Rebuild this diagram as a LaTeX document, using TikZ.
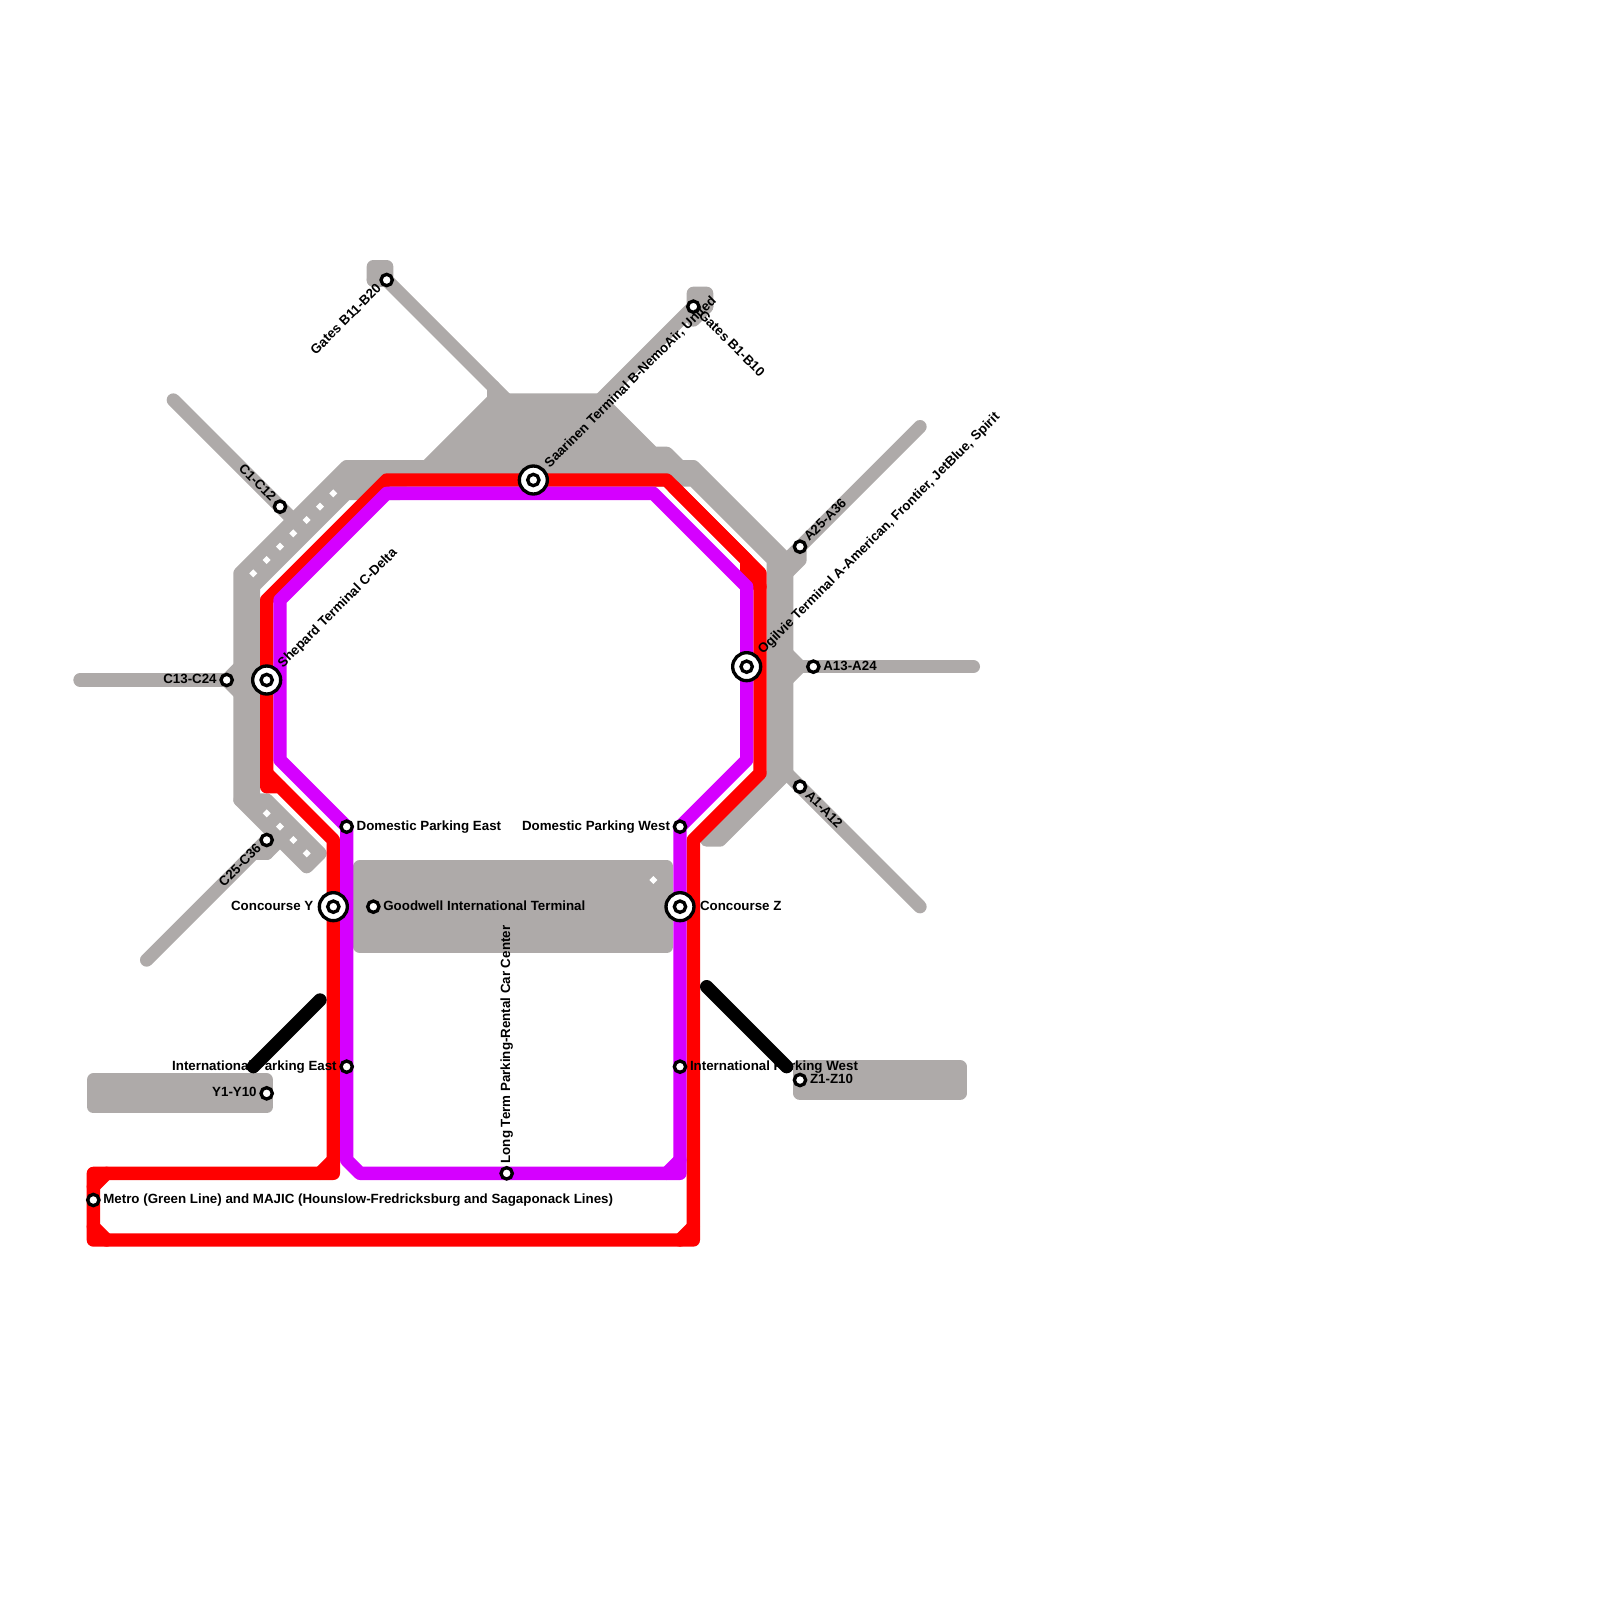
\documentclass[tikz,border=0pt]{standalone}
\usepackage{fontspec}
\setmainfont{Liberation Sans}
\usetikzlibrary{calc}
\definecolor{tgray}{HTML}{AEAAA9}
\definecolor{tred}{HTML}{FF0000}
\definecolor{tpurple}{HTML}{D500FF}
\tikzset{
  track/.style={line width=10pt,line cap=round,line join=round},
  walk/.style={track,tgray},
  area/.style={track,draw=tgray,fill=tgray},
  redline/.style={track,tred},
  purpleline/.style={track,tpurple},
  blackline/.style={track,black},
  stn/.style={circle,draw=black,fill=white,line width=2.5pt,minimum size=8.5pt,inner sep=0pt,outer sep=0pt},
  bigstn/.style={circle,draw=black,fill=white,line width=2.5pt,minimum size=21pt,inner sep=0pt,outer sep=0pt},
  lbl/.style={inner sep=0pt,outer sep=0pt,font=\fontsize{10pt}{12pt}\selectfont\bfseries,text=black},
  gapdot/.style={fill=white,draw=none}
}
\newcommand\st[3]{\node[stn] (#1) at (#2,#3) {};}
\newcommand\bigst[3]{\node[bigstn] (#1) at (#2,#3) {};\node[stn] (#1-c) at (#2,#3) {};}
\newcommand\lab[6]{\node[lbl,anchor=base #5,rotate=#3] (#1) at ($(#2.center)+(#3:#4)+({#3-90}:2.5pt)$) {#6};}
\newcommand\gapd[2]{\fill[gapdot] (#1-0.3,#2) -- (#1,#2-0.3) -- (#1+0.3,#2) -- (#1,#2+0.3) -- cycle;}
\begin{document}
\begin{tikzpicture}[x=10pt,y=-10pt]
\useasboundingbox (0,0) rectangle (120,120);
% walkways: trunk
\filldraw[area] (18,60) -- (18,43) -- (26,35) -- (32,35) -- (37,30) -- (45,30) -- (49,34) -- (50,34) -- (51,35) -- (52,35) -- (59,42) -- (59,58) -- (54,63) -- (53,63) -- (58,58) -- (58,42) -- (52,36) -- (30,36) -- (30,37) -- (26,37) -- (19,44) -- (19,60) -- cycle;
\filldraw[area] (18,60) -- (23,65) -- (24,64) -- (20,60) -- cycle;
% branches
\draw[walk] (28,21) -- (28,20) -- (29,20) -- (29,21) -- (37,29) -- (38,30);
\draw[walk] (28,21) -- (29,21);
\draw[walk] (37,29) -- (37,30);
\draw[walk] (45,30) -- (52,23) -- (52,22) -- (53,22) -- (53,23) -- (52,24);
\draw[walk] (52,23) -- (53,23);
\draw[walk] (13,30) -- (22,39);
\draw[walk] (6,51) -- (17,51);
\draw[walk] (18,50) -- (17,51) -- (18,52);
\draw[walk] (11,72) -- (20,63) -- (20,64) -- (21,63);
\draw[walk] (19,64) -- (20,64);
\draw[walk] (69,32) -- (60,41) -- (60,42) -- (59,43);
\draw[walk] (59,42) -- (60,41);
\draw[walk] (59,49) -- (60,50) -- (59,51);
\draw[walk] (60,50) -- (73,50);
\draw[walk] (59,58) -- (69,68);
% terminal blocks
\filldraw[area] (27,65) rectangle (50,71);
\filldraw[area] (7,81) rectangle (20,83);
\filldraw[area] (60,80) rectangle (72,82);
% gaps between the walkways
\foreach \a/\b in {25/37,24/38,23/39,22/40,21/41,20/42,19/43,20/61,21/62,22/63,23/64,49/66}{\gapd{\a}{\b}}
% red line
\draw[redline] (20,59) -- (20,45) -- (29,36) -- (50,36) -- (57,43) -- (57,58) -- (52,63) -- (52,93) -- (7,93) -- (7,88) -- (25,88) -- (25,63) -- (21,59) -- cycle;
\draw[redline] (20,58) -- (21,59);
\draw[redline] (7,89) -- (8,88);
\draw[redline] (24,88) -- (25,87);
\draw[redline] (7,92) -- (8,93);
\draw[redline] (51,93) -- (52,92);
\draw[redline] (50.5,36.5) -- (56,42) -- (56,43) -- (57,44);
% purple line
\draw[purpleline] (21,57) -- (21,45) -- (29,37) -- (49,37) -- (56,44) -- (56,57) -- (51,62) -- (51,88) -- (27,88) -- (26,87) -- (26,62) -- cycle;
\draw[purpleline] (50,88) -- (51,87);
% stations
\st{gb11}{29}{21}
\st{gb1}{52}{23}
\st{c1}{21}{38}
\st{a25}{60}{41}
\st{a13}{61}{50}
\st{a1}{60}{59}
\st{c13}{17}{51}
\st{c25}{20}{63}
\st{domE}{26}{62}
\st{domW}{51}{62}
\st{good}{28}{68}
\st{intE}{26}{80}
\st{intW}{51}{80}
\st{z1}{60}{81}
\st{y1}{20}{82}
\st{ltp}{38}{88}
\st{metro}{7}{90}
\bigst{saar}{40}{36}
\bigst{ogil}{56}{50}
\bigst{shep}{20}{51}
\bigst{conY}{25}{68}
\bigst{conZ}{51}{68}
% labels
\lab{lgb11}{gb11}{45}{-7.5pt}{east}{Gates B11-B20}
\lab{lgb1}{gb1}{-45}{7.5pt}{west}{Gates B1-B10}
\lab{lc1}{c1}{-45}{-7.5pt}{east}{C1-C12}
\lab{la25}{a25}{45}{7.5pt}{west}{A25-A36}
\lab{la13}{a13}{0}{7.5pt}{west}{A13-A24}
\lab{la1}{a1}{-45}{7.5pt}{west}{A1-A12}
\lab{lc13}{c13}{0}{-7.5pt}{east}{C13-C24}
\lab{lc25}{c25}{45}{-7.5pt}{east}{C25-C36}
\lab{ldomE}{domE}{0}{7.5pt}{west}{Domestic Parking East}
\lab{ldomW}{domW}{0}{-7.5pt}{east}{Domestic Parking West}
\lab{lgood}{good}{0}{7.5pt}{west}{Goodwell International Terminal}
\lab{lintE}{intE}{0}{-7.5pt}{east}{International Parking East}
\lab{lintW}{intW}{0}{7.5pt}{west}{International Parking West}
\lab{lz1}{z1}{0}{7.5pt}{west}{Z1-Z10}
\lab{ly1}{y1}{0}{-7.5pt}{east}{Y1-Y10}
\lab{lltp}{ltp}{90}{7.5pt}{west}{Long Term Parking-Rental Car Center}
\lab{lmetro}{metro}{0}{7.5pt}{west}{Metro (Green Line) and MAJIC (Hounslow-Fredricksburg and Sagaponack Lines)}
\lab{lsaar}{saar}{45}{15pt}{west}{Saarinen Terminal B-NemoAir, United}
\lab{logil}{ogil}{45}{15pt}{west}{Ogilvie Terminal A-American, Frontier, JetBlue, Spirit}
\lab{lshep}{shep}{45}{15pt}{west}{Shepard Terminal C-Delta}
\lab{lconY}{conY}{0}{-15pt}{east}{Concourse Y}
\lab{lconZ}{conZ}{0}{15pt}{west}{Concourse Z}
% black links lie over the labels
\draw[blackline] (19,80) -- (24,75);
\draw[blackline] (53,74) -- (59,80);
\end{tikzpicture}
\end{document}
